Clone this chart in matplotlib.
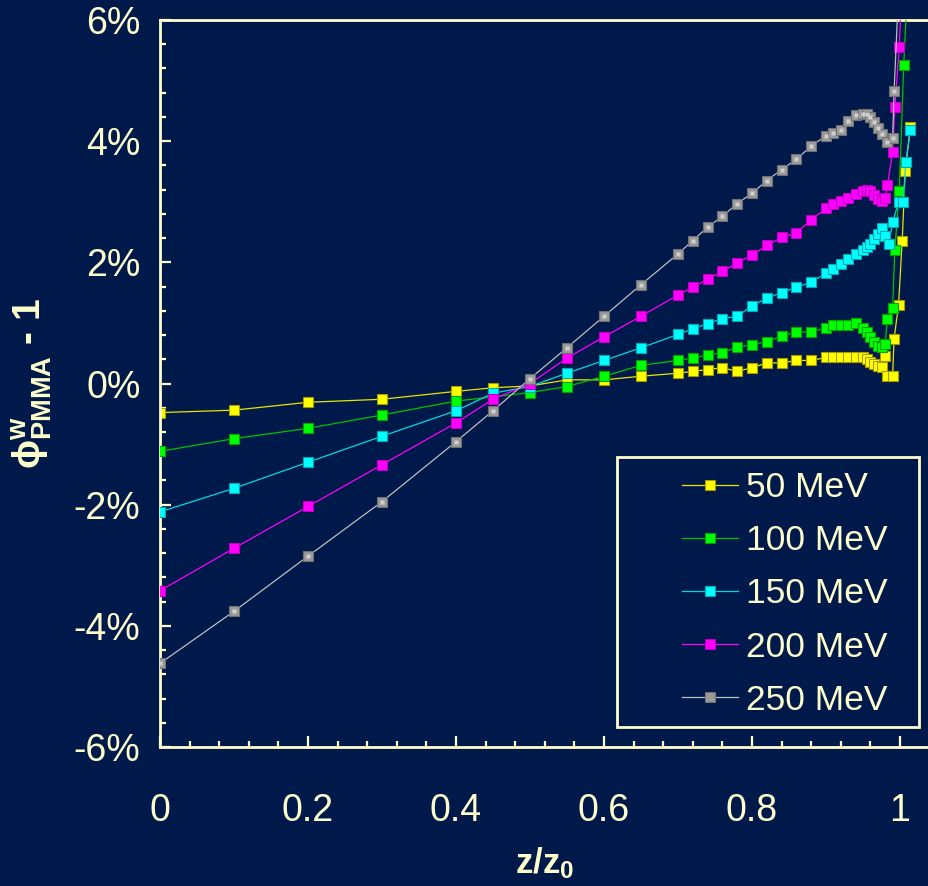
import matplotlib
matplotlib.use('Agg')
import matplotlib.pyplot as plt
from matplotlib.ticker import FixedLocator, MultipleLocator
from matplotlib.patches import Rectangle
from matplotlib.lines import Line2D

# ---------------- data ----------------
x_common = [0, 0.1, 0.2, 0.3, 0.4, 0.45, 0.5, 0.55, 0.6, 0.65, 0.7, 0.72, 0.74, 0.76,
            0.78, 0.80, 0.82, 0.84, 0.86, 0.88, 0.90, 0.91, 0.92, 0.93, 0.94, 0.95,
            0.955, 0.96, 0.965, 0.97, 0.975]

y50 = [-0.48, -0.44, -0.31, -0.26, -0.13, -0.07, -0.04, 0.06, 0.06, 0.12, 0.17, 0.20, 0.23, 0.26,
       0.20, 0.26, 0.34, 0.34, 0.38, 0.38, 0.43, 0.43, 0.43, 0.43, 0.43, 0.43,
       0.40, 0.36, 0.32, 0.29, 0.27]
x50_tail = [0.98, 0.983, 0.99, 0.992, 0.998, 1.003, 1.007, 1.014]
y50_tail = [0.45, 0.13, 0.13, 0.74, 1.29, 2.36, 3.51, 4.23]

y100 = [-1.12, -0.91, -0.74, -0.52, -0.29, -0.22, -0.15, -0.05, 0.12, 0.30, 0.38, 0.42, 0.47, 0.51,
        0.60, 0.64, 0.69, 0.78, 0.85, 0.85, 0.92, 0.96, 0.96, 0.96, 1.00, 0.92,
        0.85, 0.77, 0.68, 0.62, 0.60]
x100_tail = [0.98, 0.983, 0.99, 0.993, 0.999, 1.005, 1.012]
y100_tail = [0.65, 1.07, 1.25, 2.20, 3.18, 5.25, 7.0]

y150 = [-2.12, -1.73, -1.30, -0.87, -0.45, -0.16, -0.05, 0.17, 0.38, 0.59, 0.81, 0.90, 0.99, 1.07,
        1.11, 1.28, 1.41, 1.50, 1.59, 1.67, 1.82, 1.89, 1.98, 2.06, 2.14, 2.21,
        2.25, 2.30, 2.38, 2.46, 2.57]
x150_tail = [0.98, 0.985, 0.99, 0.998, 1.004, 1.008, 1.014]
y150_tail = [2.44, 2.30, 2.66, 2.99, 2.99, 3.65, 4.19]

y200 = [-3.42, -2.72, -2.03, -1.34, -0.65, -0.26, 0.00, 0.42, 0.77, 1.11, 1.46, 1.59, 1.72, 1.85,
        1.99, 2.12, 2.28, 2.41, 2.49, 2.70, 2.89, 2.96, 3.01, 3.07, 3.13, 3.18,
        3.19, 3.18, 3.11, 3.04, 3.02]
x200_tail = [0.98, 0.983, 0.99, 0.993, 0.999, 1.004]
y200_tail = [3.06, 3.27, 3.82, 4.56, 5.55, 7.0]

y250 = [-4.62, -3.76, -2.85, -1.95, -0.96, -0.45, 0.08, 0.59, 1.11, 1.63, 2.14, 2.36, 2.58, 2.76,
        2.97, 3.14, 3.35, 3.53, 3.70, 3.92, 4.09, 4.13, 4.18, 4.34, 4.44, 4.45,
        4.45, 4.40, 4.31, 4.22, 4.12]
x250_tail = [0.983, 0.99, 0.992, 1.0]
y250_tail = [3.98, 4.05, 4.82, 7.0]

labels = ['50 MeV', '100 MeV', '150 MeV', '200 MeV', '250 MeV']
xticks = [0, 0.2, 0.4, 0.6, 0.8, 1.0]
xtick_labels = ['0', '0.2', '0.4', '0.6', '0.8', '1']
yticks = [-6, -4, -2, 0, 2, 4, 6]
ytick_labels = ['-6%', '-4%', '-2%', '0%', '2%', '4%', '6%']

# ---------------- style ----------------
BG = '#00194B'
FG = '#FFFFCC'
plt.rcParams['font.family'] = ['Liberation Sans', 'DejaVu Sans']
plt.rcParams['mathtext.fontset'] = 'custom'
plt.rcParams['mathtext.rm'] = 'Liberation Sans'
plt.rcParams['mathtext.it'] = 'Liberation Sans:italic'
plt.rcParams['mathtext.bf'] = 'Liberation Sans:bold'

styles = [
    dict(color='#E6E600', mfc='#FFFF00', mec='#A89A00'),
    dict(color='#00C000', mfc='#00FF00', mec='#00A000'),
    dict(color='#00D8E0', mfc='#00FFFF', mec='#00A8B0'),
    dict(color='#FF00FF', mfc='#FF00FF', mec='#C000C0'),
    dict(color='#BDBDBD', mfc='#9A9A9A', mec='#707070'),
]

fig = plt.figure(figsize=(9.29, 8.86), dpi=100, facecolor=BG)
ax = fig.add_axes([160 / 929, 139 / 886, 769 / 929, 727 / 886])
ax.set_facecolor(BG)

series = [
    (x_common + x50_tail, y50 + y50_tail),
    (x_common + x100_tail, y100 + y100_tail),
    (x_common + x150_tail, y150 + y150_tail),
    (x_common + x200_tail, y200 + y200_tail),
    (x_common + x250_tail, y250 + y250_tail),
]

ms = 6.8
for i, ((xs, ys), st, lab) in enumerate(zip(series, styles, labels)):
    ax.plot(xs, ys, '-', color=st['color'], lw=0.9, marker='s', ms=ms,
            mfc=st['mfc'], mec=st['mec'], mew=0.8, zorder=2 + i, label=lab)
    if i == 4:
        ax.plot(xs, ys, ls='none', marker='s', ms=2.6, mfc='#CFCFCF', mec='none', zorder=2 + i)

ax.set_xlim(0, 769 / 740)
ax.set_ylim(-6, 6)

for s in ['left', 'bottom', 'top']:
    ax.spines[s].set_color(FG)
    ax.spines[s].set_linewidth(2.0)
ax.spines['right'].set_visible(False)

ax.xaxis.set_major_locator(FixedLocator(xticks))
ax.set_xticklabels(xtick_labels)
ax.xaxis.set_minor_locator(FixedLocator([round(0.04 * k, 2) for k in range(26) if k % 5 != 0]))
ax.yaxis.set_major_locator(FixedLocator(yticks))
ax.set_yticklabels(ytick_labels)
ax.yaxis.set_minor_locator(MultipleLocator(0.4))

ax.tick_params(which='both', direction='in', colors=FG, top=False, right=False)
ax.tick_params(which='major', length=8, width=1.6)
ax.tick_params(which='minor', length=4.5, width=1.6)
ax.tick_params(axis='x', which='major', pad=33, labelsize=27, labelcolor=FG)
ax.tick_params(axis='y', which='major', pad=14, labelsize=27, labelcolor=FG)

ax.set_xlabel(r'$\mathbf{z/z_0}$', fontsize=25, color=FG, labelpad=12)
ax.set_ylabel('\u03d5' + r'$^{\mathbf{w}}_{\mathbf{PMMA}}$ - 1', fontsize=28, color=FG,
              fontweight='bold', labelpad=14, family=['Liberation Sans', 'DejaVu Sans'])

# legend
leg_handles = []
for st in styles:
    leg_handles.append(Line2D([0], [0], color=st['color'], lw=0.9, marker='s', ms=ms,
                              mfc=st['mfc'], mec=st['mec'], mew=0.8))
leg = fig.legend(leg_handles, labels, loc='upper left',
                 bbox_to_anchor=(682 / 929, 1 - 471 / 886),
                 frameon=False, fontsize=25.5, labelcolor=FG,
                 handlelength=1.58, handletextpad=0.23, labelspacing=0.57,
                 borderaxespad=0, borderpad=0)
fig.patches.append(Rectangle((617 / 929, 1 - 727 / 886), (919 - 617) / 929, (727 - 457) / 886,
                             transform=fig.transFigure, facecolor=BG, edgecolor=FG,
                             linewidth=2.0, zorder=1))
leg.set_zorder(10)

fig.savefig('out.png', dpi=100, facecolor=BG)
